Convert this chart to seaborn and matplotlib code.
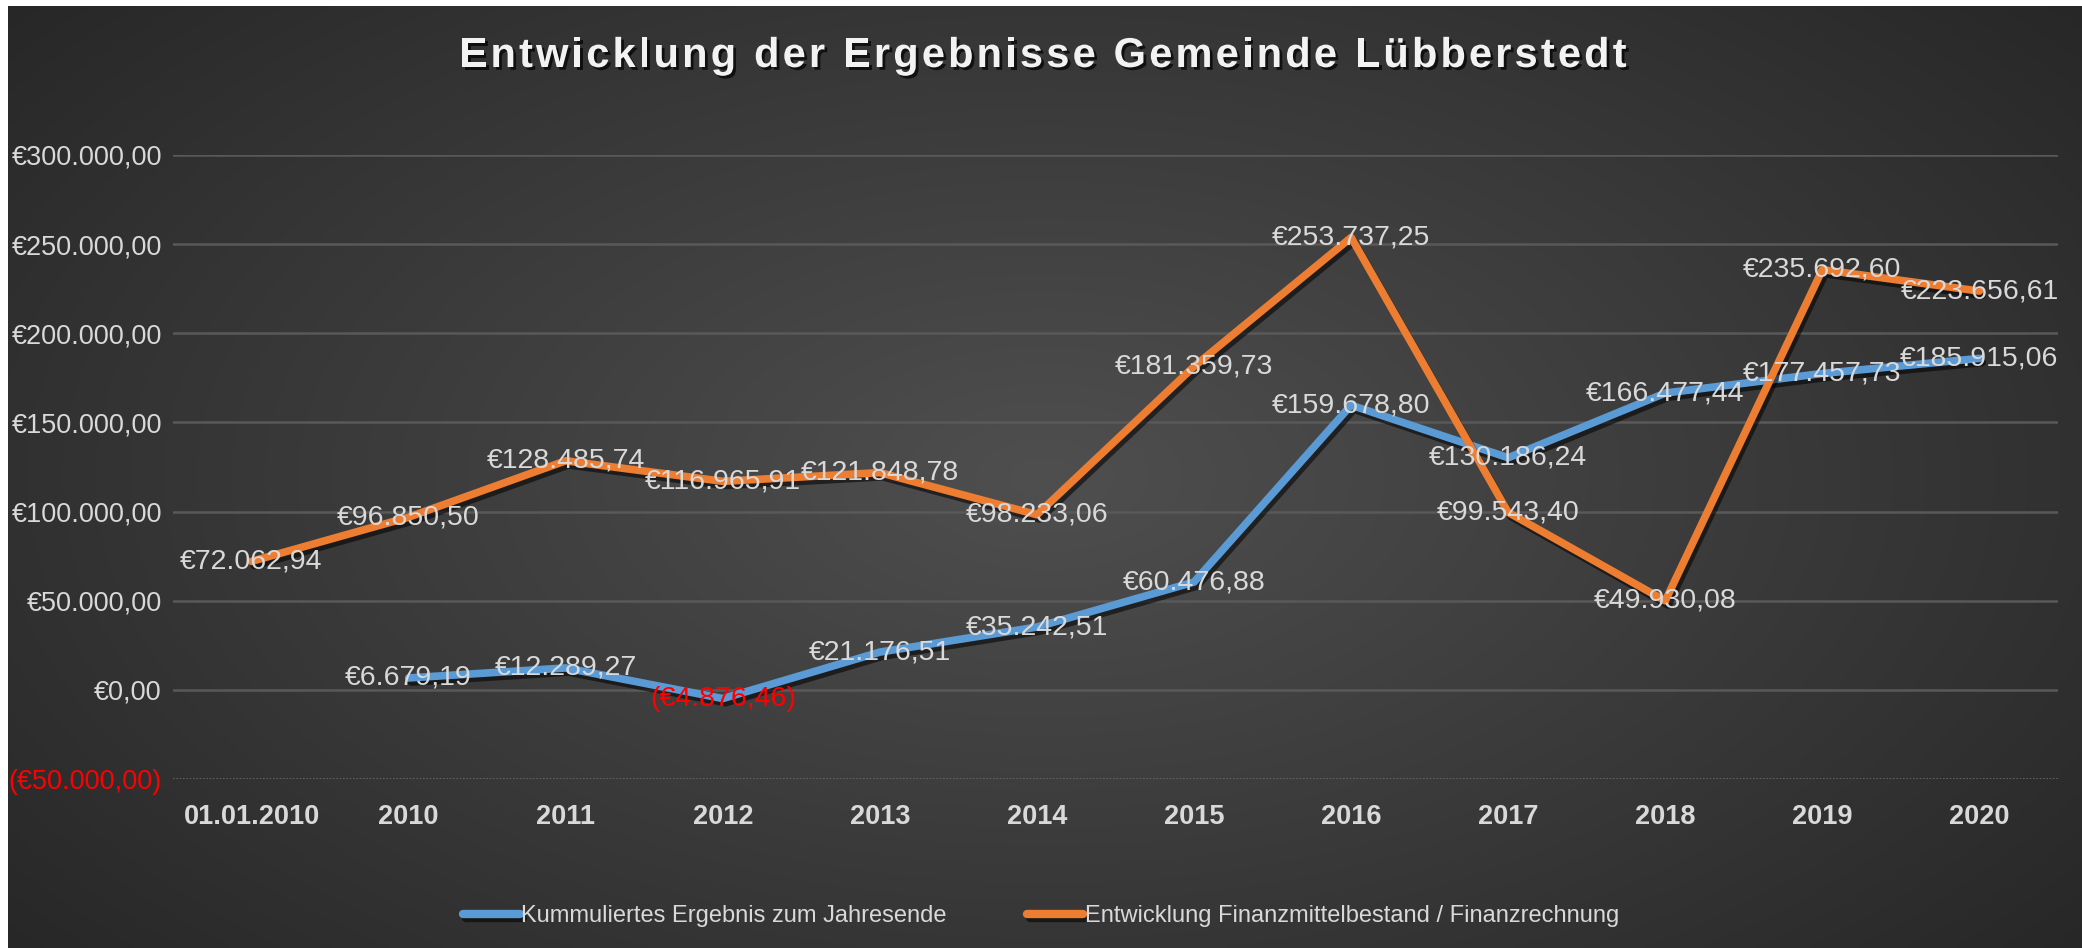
import numpy as np
import pandas as pd
import matplotlib
matplotlib.use("Agg")
import matplotlib.pyplot as plt
import matplotlib.patheffects as pe
from matplotlib.font_manager import FontProperties
from matplotlib.ticker import FuncFormatter
import seaborn as sns

# data
categories = ["01.01.2010", "2010", "2011", "2012", "2013", "2014",
              "2015", "2016", "2017", "2018", "2019", "2020"]
kumuliert = [np.nan, 6679.19, 12289.27, -4876.46, 21176.51, 35242.51,
             60476.88, 159678.80, 130186.24, 166477.44, 177457.73, 185915.06]
finanzmittel = [72062.94, 96850.50, 128485.74, 116965.91, 121848.78, 98233.06,
                181359.73, 253737.25, 99543.40, 49930.08, 235692.60, 223656.61]
series_names = ["Kummuliertes Ergebnis zum Jahresende",
                "Entwicklung Finanzmittelbestand / Finanzrechnung"]
colors = ["#5B9BD5", "#ED7D31"]
yticks = [-50000, 0, 50000, 100000, 150000, 200000, 250000, 300000]
title = "Entwicklung der Ergebnisse Gemeinde Lübberstedt"


def euro(v):
    s = f"{abs(v):,.2f}".replace(",", "X").replace(".", ",").replace("X", ".")
    return f"(€{s})" if v < 0 else f"€{s}"


df = pd.DataFrame({
    "pos": list(range(len(categories))) * 2,
    "value": kumuliert + finanzmittel,
    "series": [series_names[0]] * len(categories) + [series_names[1]] * len(categories),
})

sns.set_theme(style="dark")
plt.rcParams["font.family"] = ["Liberation Sans", "DejaVu Sans"]

W, H = 2082, 948
fig = plt.figure(figsize=(W / 100, H / 100), dpi=100)
fig.patch.set_facecolor("white")

# radial gradient background
bg = fig.add_axes([8 / W, 0, 1 - 8 / W, 1 - 6 / H], zorder=-5)
yy, xx = np.mgrid[-1:1:300j, -1:1:600j]
r = np.sqrt((xx * 0.9) ** 2 + (yy * 0.75) ** 2)
grad = 0.31 - 0.16 * np.clip(r, 0, 1.2) / 1.2
bg.imshow(np.dstack([grad] * 3), aspect="auto", extent=[0, 1, 0, 1],
          interpolation="bicubic")
bg.set_axis_off()

ax = fig.add_axes([173 / W, 1 - 779 / H, (2058 - 173) / W, (779 - 155) / H])
ax.set_facecolor("none")

shadow = [pe.SimpleLineShadow(offset=(2, -3), shadow_color="black", alpha=0.55),
          pe.Normal()]
sns.lineplot(data=df, x="pos", y="value", hue="series", palette=colors,
             linewidth=5.5, ax=ax, legend=True, path_effects=shadow)

ax.set_xlim(-0.5, len(categories) - 0.5)
ax.set_ylim(-50000, 300000)
ax.set_yticks(yticks)
ax.yaxis.set_major_formatter(FuncFormatter(lambda v, p: euro(v)))
ax.set_xticks(range(len(categories)))
ax.set_xticklabels(categories, fontweight="bold")
ax.tick_params(axis="y", labelsize=19.5, colors="#d9d9d9", pad=8, length=0)
ax.tick_params(axis="x", labelsize=19.5, colors="#d9d9d9", pad=18, length=0)
for lbl, v in zip(ax.get_yticklabels(), yticks):
    if v < 0:
        lbl.set_color("#ff0000")
ax.set_xlabel("")
ax.set_ylabel("")
for s in ax.spines.values():
    s.set_visible(False)

for v in yticks:
    if v == -50000:
        ax.axhline(v, color="#6a6a6a", lw=1.2, ls=(0, (1, 1)), zorder=0)
    else:
        ax.axhline(v, color="#595959", lw=1.8, zorder=0)

# data labels centred on the points
for vals in (kumuliert, finanzmittel):
    for i, v in enumerate(vals):
        if np.isnan(v):
            continue
        ax.text(i, v, euro(v), ha="center", va="center", fontsize=20.5,
                color="#ff0000" if v < 0 else "#d9d9d9", zorder=5)

handles, labels = ax.get_legend_handles_labels()
ax.legend_.remove()
leg = fig.legend(handles, labels, loc="center", bbox_to_anchor=(0.5, 1 - 916 / H),
                 ncol=2, frameon=False, fontsize=17, handlelength=2.4,
                 handletextpad=0.05, columnspacing=3.4, labelcolor="#d9d9d9")
for h in leg.get_lines():
    h.set_linewidth(6)
    h.set_solid_capstyle("round")

# title with letter spacing, characters placed one by one
fig.canvas.draw()
renderer = fig.canvas.get_renderer()
tprop = FontProperties(family="Liberation Sans", weight="bold", size=30)
widths = [renderer.get_text_width_height_descent(c, tprop, ismath=False)[0] for c in title]
target = 1167
gap = (target - sum(widths)) / (len(title) - 1)
x = W * 0.501 - target / 2
title_fx = [pe.SimplePatchShadow(offset=(2, -2), shadow_rgbFace="black", alpha=0.7),
            pe.Normal()]
for c, w in zip(title, widths):
    if c != " ":
        fig.text(x / W, 1 - 56 / H, c, ha="left", va="center", fontproperties=tprop,
                 color="#f2f2f2", path_effects=title_fx)
    x += w + gap

fig.savefig("out.png", dpi=100, facecolor=fig.get_facecolor())
